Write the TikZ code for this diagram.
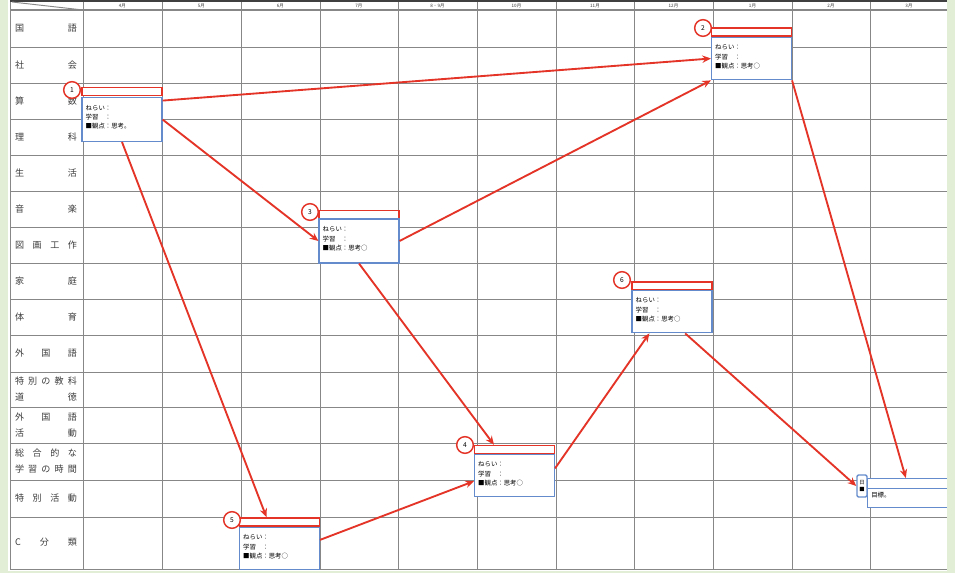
\documentclass[tikz,border=0pt]{standalone}
\usepackage{fontspec}
\setmainfont{Noto Sans CJK JP}
\usetikzlibrary{arrows.meta}
\usetikzlibrary{positioning}
\definecolor{planred}{RGB}{228,52,40}
\definecolor{planblue}{RGB}{100,140,205}
\definecolor{gridgray}{RGB}{135,135,135}
\definecolor{framegreen}{RGB}{226,238,214}
\definecolor{labgray}{RGB}{60,60,60}

\newcommand{\memolines}[1]{\makebox[14.4pt][l]{ねらい}：\\\makebox[14.4pt][l]{学習}：\\■\makebox[9.6pt][r]{観点}：#1}

\begin{document}
\begin{tikzpicture}[x=0.75pt, y=-0.75pt, >={Stealth[length=6.5pt,width=5.5pt]}]
		\tikzstyle{gridline}=[gridgray, line width=0.7pt]
		\tikzstyle{subject}=[text width=46.5pt, inner sep=0pt, align=left, text=labgray, font=\fontsize{6.8}{12}\selectfont]
		\tikzstyle{month}=[inner sep=0pt, text=labgray, font=\fontsize{3.4}{4}\selectfont]
		\tikzstyle{title}=[draw=planred, line width=1.1pt, fill=white, minimum width=60pt, minimum height=6pt, inner sep=0pt]
		\tikzstyle{body}=[draw=planblue, line width=0.8pt, fill=white, minimum width=60pt, minimum height=33pt, inner sep=0pt]
		\tikzstyle{num}=[draw=planred, line width=1.1pt, fill=white, circle, minimum size=12.5pt, inner sep=0pt, font=\fontsize{5}{5}\selectfont]
		\tikzstyle{memo}=[inner sep=0pt, align=left, font=\fontsize{4.8}{7}\selectfont]
		\tikzstyle{link}=[->, planred, line width=1.4pt]

		\useasboundingbox (0,0) rectangle (955,573);
		\fill[white] (0,0) rectangle (955,573);

    % Table grid
		\foreach \x in {10,83,162,241,320,398,477,556,634,713,792,870}
			\draw[gridline] (\x,1) -- (\x,569);
		\foreach \y in {47,83,119,155,191,227,263,299,335,372,407,443,480,517,569}
			\draw[gridline] (10,\y) -- (950,\y);
		\draw[gridline, line width=1.2pt] (10,10) -- (950,10);
		\draw[black!75, line width=1.6pt] (10,1) -- (950,1);
		\draw[gridline] (12,2) -- (83,10);

    % Months
		\node[month](m4) at (122.5,5.5){4月};
		\node[month](m5) at (201.5,5.5){5月};
		\node[month](m6) at (280.5,5.5){6月};
		\node[month](m7) at (359,5.5){7月};
		\node[month](m89) at (437.5,5.5){8・9月};
		\node[month](m10) at (516.5,5.5){10月};
		\node[month](m11) at (595,5.5){11月};
		\node[month](m12) at (673.5,5.5){12月};
		\node[month](m1) at (752.5,5.5){1月};
		\node[month](m2) at (831,5.5){2月};
		\node[month](m3) at (909,5.5){3月};

    % Subjects
		\node[subject](s1) at (46,28.5){国\hfill 語};
		\node[subject](s2) at (46,65){社\hfill 会};
		\node[subject](s3) at (46,101){算\hfill 数};
		\node[subject](s4) at (46,137){理\hfill 科};
		\node[subject](s5) at (46,173){生\hfill 活};
		\node[subject](s6) at (46,209){音\hfill 楽};
		\node[subject](s7) at (46,245){図\hfill 画\hfill 工\hfill 作};
		\node[subject](s8) at (46,281){家\hfill 庭};
		\node[subject](s9) at (46,317){体\hfill 育};
		\node[subject](s10) at (46,353.5){外\hfill 国\hfill 語};
		\node[subject](s11) at (46,389.5){特\hfill 別\hfill の\hfill 教\hfill 科\\道\hfill 徳};
		\node[subject](s12) at (46,425){外\hfill 国\hfill 語\\活\hfill 動};
		\node[subject](s13) at (46,461.5){総\hfill 合\hfill 的\hfill な\\学\hfill 習\hfill の\hfill 時\hfill 間};
		\node[subject](s14) at (46,498.5){特\hfill 別\hfill 活\hfill 動};
		\node[subject](s15) at (46,542.5){C\hfill 分\hfill 類};

    % Unit 1 (4月)
		\node[title](t1) at (122,91.5){};
		\node[body](b1) at (122,119.5){};
		\node[num](c1) at (72,90){1};
		\node[memo, below right=6pt and 3pt of b1.north west](b1txt){\memolines{思考。}};

    % Unit 2 (1月)
		\node[title](t2) at (751.5,32){};
		\node[body, minimum height=32pt](b2) at (751.5,58.5){};
		\node[num](c2) at (703,28){2};
		\node[memo, below right=6pt and 3pt of b2.north west](b2txt){\memolines{思考○}};

    % Unit 3 (7月)
		\node[title](t3) at (359,214.5){};
		\node[body](b3) at (359,241){};
		\node[num](c3) at (310,212){3};
		\node[memo, below right=6pt and 3pt of b3.north west](b3txt){\memolines{思考○}};

    % Unit 4 (10月)
		\node[title](t4) at (514.5,449.5){};
		\node[body, minimum height=32pt](b4) at (514.5,475.5){};
		\node[num](c4) at (465,445){4};
		\node[memo, below right=6pt and 3pt of b4.north west](b4txt){\memolines{思考○}};

    % Unit 5 (6月)
		\node[title](t5) at (279.5,522){};
		\node[body, minimum height=32pt](b5) at (279.5,548.5){};
		\node[num](c5) at (232,520){5};
		\node[memo, below right=6pt and 3pt of b5.north west](b5txt){\memolines{思考○}};

    % Unit 6 (12月)
		\node[title](t6) at (672,286){};
		\node[body, minimum height=32pt](b6) at (672,311.5){};
		\node[num](c6) at (622,280){6};
		\node[memo, below right=6pt and 3pt of b6.north west](b6txt){\memolines{思考○}};

    % Unit 7 (3月)
		\node[title, draw=planblue, minimum width=72pt, minimum height=7.5pt, anchor=north west](t7) at (867,478){};
		\node[body, minimum width=72pt, minimum height=14pt, anchor=north west](b7) at (867,488){};
		\node[draw=planblue, line width=1.1pt, fill=white, rounded corners=1pt, minimum width=7.5pt, minimum height=16.5pt, inner sep=0pt, align=center, font=\fontsize{4}{5}\selectfont](i7) at (862,486){日\\■};
		\node[memo, below right=3pt and 3pt of b7.north west](b7txt){目標。};

    % Connections
		\draw[link] (b1.25) -- (b2.west);
		\draw[link] (b1.east) -- (b3.west);
		\draw[link] (b1.south) -- (t5.160);
		\draw[link] (b3.east) -- (b2.south west);
		\draw[link] (b3.south) -- (t4.167);
		\draw[link] (b5.12) -- (b4.188);
		\draw[link] (b4.10) -- (b6.224);
		\draw[link] (b6.-59) -- (i7.west);
		\draw[link] (b2.south east) -- (t7.150);

    % Frame
		\fill[framegreen] (0,0) rectangle (8,573);
		\fill[framegreen] (947,0) rectangle (955,573);
		\fill[framegreen] (0,571) rectangle (955,573);

  \end{tikzpicture}
\end{document}
